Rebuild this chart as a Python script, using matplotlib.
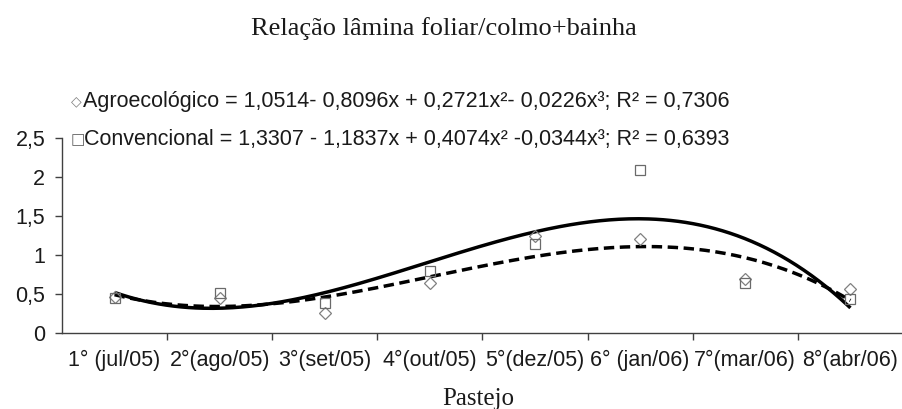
import numpy as np
import matplotlib
matplotlib.use("Agg")
import matplotlib.pyplot as plt

# ---- data ----
categories = ["1° (jul/05)", "2°(ago/05)", "3°(set/05)", "4°(out/05)",
              "5°(dez/05)", "6° (jan/06)", "7°(mar/06)", "8°(abr/06)"]
agro = [0.46, 0.45, 0.26, 0.64, 1.24, 1.20, 0.69, 0.56]
conv = [0.45, 0.51, 0.39, 0.80, 1.14, 2.09, 0.64, 0.44]
# trendline coefficients (constant, x, x^2, x^3) as printed on the chart
agro_coef = [1.0514, -0.8096, 0.2721, -0.0226]
conv_coef = [1.3307, -1.1837, 0.4074, -0.0344]
yticks = [0, 0.5, 1, 1.5, 2, 2.5]
ytick_labels = ["0", "0,5", "1", "1,5", "2", "2,5"]

title = "Relação lâmina foliar/colmo+bainha"
xlabel = "Pastejo"
leg_agro = "Agroecológico = 1,0514- 0,8096x + 0,2721x²- 0,0226x³; R² = 0,7306"
leg_conv = "Convencional = 1,3307 - 1,1837x + 0,4074x² -0,0344x³; R² = 0,6393"

W, H = 903, 409
fig = plt.figure(figsize=(W / 100, H / 100), dpi=100)
ax = fig.add_axes([62 / W, 1 - 333 / H, (W - 62) / W, (333 - 138) / H])

sans = ["Liberation Sans", "DejaVu Sans"]
serif = ["Liberation Serif", "DejaVu Serif"]
FS = 15.5
TXT = "#1a1a1a"

n = len(categories)
xpos = np.arange(n) + 0.5

# trendlines
xs = np.linspace(1, n, 300)
conv_curve = np.polyval(conv_coef[::-1], xs)
agro_curve = np.polyval(agro_coef[::-1], xs)
ax.plot(xs - 0.5, conv_curve, color="black", lw=2.5, solid_capstyle="butt", zorder=2)
ax.plot(xs - 0.5, agro_curve, color="black", lw=2.5, linestyle=(0, (3.0, 1.6)), zorder=2)

# points
ax.plot(xpos, agro, linestyle="none", marker="D", markersize=6.3,
        markerfacecolor="none", markeredgecolor="#808080", markeredgewidth=0.9, zorder=3)
ax.plot(xpos, conv, linestyle="none", marker="s", markersize=7.5,
        markerfacecolor="none", markeredgecolor="#6a6a6a", markeredgewidth=0.9, zorder=3)

ax.set_xlim(0, n)
ax.set_ylim(0, 2.5)
ax.set_xticks(np.arange(1, n + 1))
ax.set_xticklabels([])
ax.set_xticks(xpos, minor=True)
ax.set_xticklabels(categories, minor=True, family=sans, fontsize=FS, color=TXT)
ax.tick_params(axis="x", which="minor", length=0, pad=12.5)
ax.tick_params(axis="x", which="major", direction="out", length=5, width=1, color="#404040")
ax.set_yticks(yticks)
ax.set_yticklabels(ytick_labels, family=sans, fontsize=FS, color=TXT)
ax.tick_params(axis="y", direction="out", length=5, width=1, color="#404040", pad=7)

for s in ["top", "right"]:
    ax.spines[s].set_visible(False)
for s in ["left", "bottom"]:
    ax.spines[s].set_color("#404040")
    ax.spines[s].set_linewidth(1)
ax.patch.set_alpha(0)

# texts
fig.text(444 / W, 1 - 35 / H, title, ha="center", va="baseline",
         family=serif, fontsize=19, color=TXT)
fig.text(478 / W, 1 - 405 / H, xlabel, ha="center", va="baseline",
         family=serif, fontsize=18, color=TXT)

fig.text(71 / W, 1 - 101 / H, "◇", ha="left", va="center",
         family=["DejaVu Sans"], fontsize=10, color="#808080")
fig.text(83 / W, 1 - 101 / H, leg_agro, ha="left", va="center",
         family=sans, fontsize=FS, color=TXT)
fig.text(71 / W, 1 - 140 / H, "□", ha="left", va="center",
         family=["DejaVu Sans"], fontsize=11, color="#606060")
fig.text(84 / W, 1 - 140 / H, leg_conv, ha="left", va="center",
         family=sans, fontsize=FS, color=TXT)

fig.savefig("out.png", dpi=100)
